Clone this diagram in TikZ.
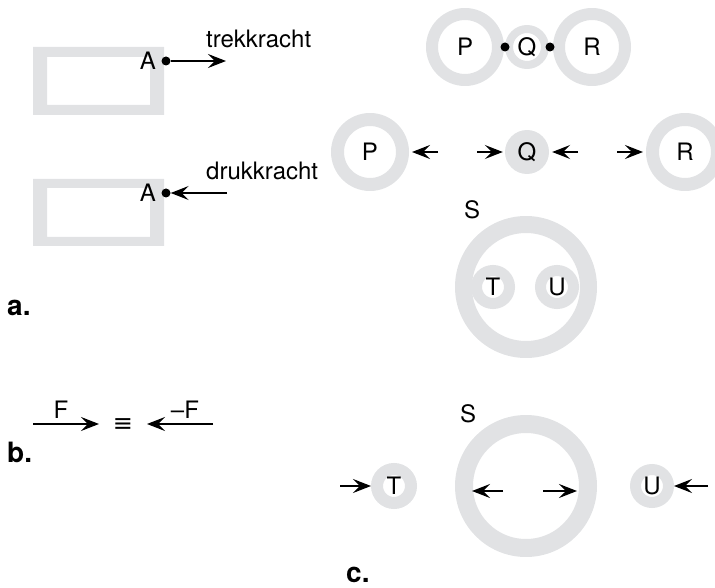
\documentclass[tikz,border=0pt]{standalone}
\usepackage{fontspec}
\setmainfont{TeX Gyre Heros}
\newfontfamily\symfont{DejaVu Sans}
\usetikzlibrary{arrows.meta}
\definecolor{ringgray}{RGB}{225,226,228}
\begin{document}
\begin{tikzpicture}[x=1pt,y=-1pt,
  lbl/.style={font=\fontsize{24}{28}\selectfont, inner sep=0pt},
  part/.style={font=\fontsize{28}{32}\selectfont\bfseries, inner sep=0pt, anchor=base west},
  ringnode/.style n args={2}{circle, draw=ringgray, fill=white, line width=#1,
      minimum size=#2, inner sep=0pt, font=\fontsize{24}{28}\selectfont},
  solidnode/.style={circle, fill=ringgray, minimum size=#1, inner sep=0pt,
      font=\fontsize{24}{28}\selectfont},
  dot/.style={circle, fill=black, minimum size=9pt, inner sep=0pt},
  arr/.style={line width=1.4pt, -{Stealth[length=18pt,width=14pt,inset=7pt]}}
]
\useasboundingbox (0,0) rectangle (715,588);

% ---- a. rectangles
\fill[ringgray, even odd rule] (33,47) rectangle (164,115) (47,57) rectangle (150,105);
\fill[ringgray, even odd rule] (33,179) rectangle (164,246) (47,188) rectangle (150,237);

\node[dot] (A1) at (166,61) {};
\node[lbl, anchor=east] (A1l) at (156,61) {A};
\coordinate (t1) at (226,61);
\draw[arr] (A1) -- (t1);
\node[lbl, anchor=base west] (trek) at (206,48) {trekkracht};

\node[dot] (A2) at (166,193) {};
\node[lbl, anchor=east] (A2l) at (156,193) {A};
\coordinate (t2) at (227,193);
\draw[arr] (t2) -- (A2);
\node[lbl, anchor=base west] (druk) at (206,180) {drukkracht};

\node[part] (pa) at (7,315) {a.};

% ---- b.
\coordinate (b1s) at (33,424);
\coordinate (b1e) at (99,424);
\draw[arr] (b1s) -- (b1e);
\node[lbl, anchor=base] (bF) at (61,418) {F};
\node[inner sep=0pt, font=\fontsize{24}{28}\selectfont\symfont] (beq) at (123,425) {≡};
\coordinate (b2s) at (213,424);
\coordinate (b2e) at (147,424);
\draw[arr] (b2s) -- (b2e);
\node[lbl, anchor=base] (bmF) at (185,418) {–F};
\node[part] (pb) at (7,462) {b.};

% ---- top row P Q R
\node[ringnode={12pt}{66pt}] (P1) at (465,47) {P};
\node[ringnode={8pt}{36pt}] (Q1) at (527,47) {Q};
\node[ringnode={12pt}{66pt}] (R1) at (592,47) {R};
\node[dot] (d1) at (505,47) {};
\node[dot] (d2) at (550,47) {};

% ---- middle row
\node[ringnode={13pt}{65pt}] (P2) at (370,152) {P};
\node[solidnode=44pt] (Q2) at (527,152) {Q};
\node[ringnode={13pt}{65pt}] (R2) at (685,152) {R};
\coordinate (m1) at (438,152);
\coordinate (m2) at (477,152);
\coordinate (m3) at (578,152);
\coordinate (m4) at (617,152);
\draw[arr, shorten >=3pt] (m1) -- (P2);
\draw[arr, shorten >=2pt] (m2) -- (Q2);
\draw[arr, shorten >=3pt] (m3) -- (Q2);
\draw[arr, shorten >=3pt] (m4) -- (R2);

% ---- S with T and U inside
\node[ringnode={17pt}{125pt}] (S1) at (526,287) {};
\node[lbl, anchor=base] (S1l) at (472,219) {S};
\node[ringnode={11pt}{33pt}] (T1) at (493,287) {T};
\node[ringnode={11pt}{33pt}] (U1) at (557,287) {U};

% ---- c. separated
\node[ringnode={18pt}{124pt}] (S2) at (526,486) {};
\node[lbl, anchor=base] (S2l) at (468,422) {S};
\node[ringnode={12pt}{34pt}] (T2) at (394,486) {T};
\node[ringnode={11pt}{33pt}] (U2) at (652,486) {U};
\coordinate (c1) at (340,486);
\draw[arr] (c1) -- (T2);
\coordinate (c2) at (708,486);
\draw[arr] (c2) -- (U2);
\coordinate (s2a) at (503,491);
\coordinate (s2b) at (472,491);
\coordinate (s2c) at (543,491);
\coordinate (s2d) at (577,491);
\draw[arr] (s2a) -- (s2b);
\draw[arr] (s2c) -- (s2d);
\node[part] (pc) at (346,582) {c.};
\end{tikzpicture}
\end{document}
